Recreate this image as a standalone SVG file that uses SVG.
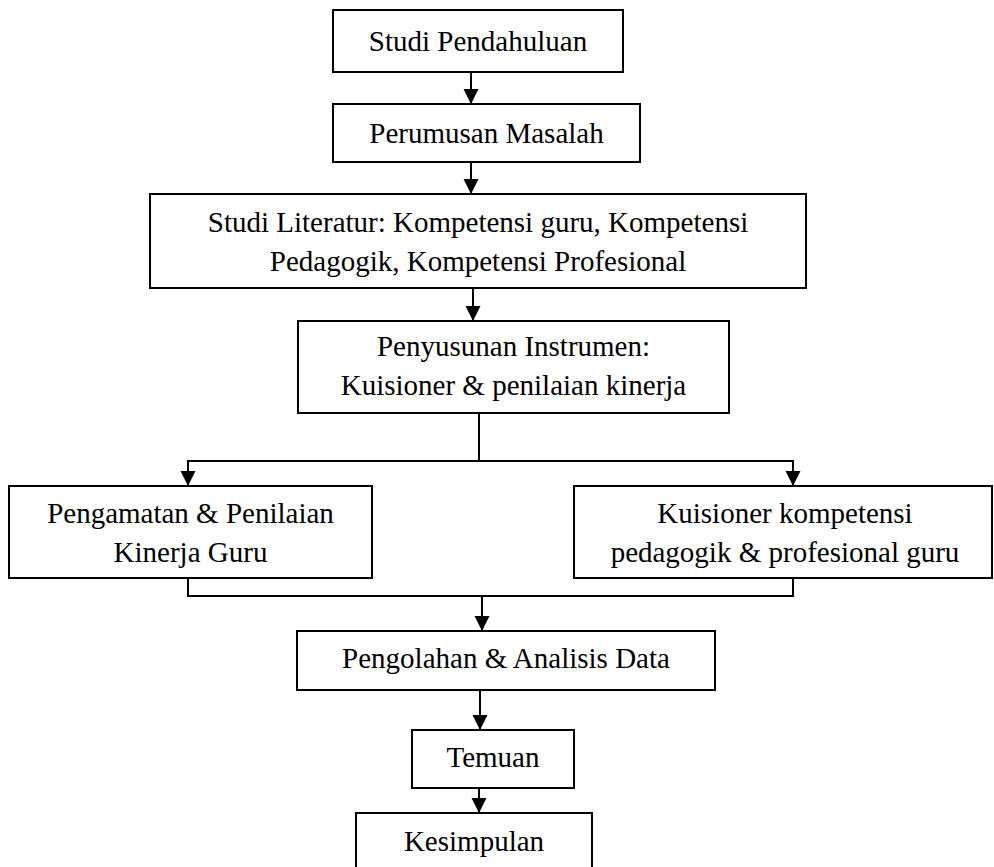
<svg xmlns="http://www.w3.org/2000/svg" width="994" height="867" viewBox="0 0 994 867">
<defs>
<marker id="ah" markerUnits="userSpaceOnUse" markerWidth="16" markerHeight="16" refX="15" refY="7.5" orient="auto">
<path d="M0,0 L15,7.5 L0,15 Z" fill="#000"/>
</marker>
</defs>
<style>
.box{fill:#fff;stroke:#000;stroke-width:2}
.t{font-family:"Liberation Serif","Times New Roman",serif;font-size:29px;fill:#000;text-anchor:middle}
.c{fill:none;stroke:#000;stroke-width:2}
.a{marker-end:url(#ah)}
</style>
<rect width="994" height="867" fill="#fff"/>
<g id="connectors">
<line class="c a" x1="471" y1="72" x2="471" y2="104"/>
<line class="c a" x1="471" y1="162" x2="471" y2="194"/>
<line class="c a" x1="473" y1="288" x2="473" y2="321"/>
<line class="c" x1="479" y1="413" x2="479" y2="461"/>
<polyline class="c" points="188,486 188,461 793,461 793,486"/>
<line class="c a" x1="188" y1="461" x2="188" y2="486"/>
<line class="c a" x1="793" y1="461" x2="793" y2="486"/>
<polyline class="c" points="188,578 188,596 793,596 793,578"/>
<line class="c a" x1="482" y1="596" x2="482" y2="631"/>
<line class="c a" x1="480" y1="690" x2="480" y2="730"/>
<line class="c a" x1="479" y1="788" x2="479" y2="813"/>
</g>
<g id="n1"><rect class="box" x="333" y="10" width="290" height="62"/><text class="t" x="478" y="51">Studi Pendahuluan</text></g>
<g id="n2"><rect class="box" x="333" y="104" width="307" height="58"/><text class="t" x="486.5" y="143">Perumusan Masalah</text></g>
<g id="n3"><rect class="box" x="150" y="194" width="656" height="94"/><text class="t" x="478" y="232">Studi Literatur: Kompetensi guru, Kompetensi</text><text class="t" x="478" y="271">Pedagogik, Kompetensi Profesional</text></g>
<g id="n4"><rect class="box" x="298" y="321" width="431" height="92"/><text class="t" x="513.5" y="356">Penyusunan Instrumen:</text><text class="t" x="513.5" y="395">Kuisioner &amp; penilaian kinerja</text></g>
<g id="n5"><rect class="box" x="9" y="486" width="363" height="92"/><text class="t" x="190.5" y="523">Pengamatan &amp; Penilaian</text><text class="t" x="190.5" y="562">Kinerja Guru</text></g>
<g id="n6"><rect class="box" x="574" y="486" width="418" height="92"/><text class="t" x="785" y="523">Kuisioner kompetensi</text><text class="t" x="785" y="562">pedagogik &amp; profesional guru</text></g>
<g id="n7"><rect class="box" x="297" y="631" width="418" height="59"/><text class="t" x="506" y="668">Pengolahan &amp; Analisis Data</text></g>
<g id="n8"><rect class="box" x="412" y="730" width="162" height="58"/><text class="t" x="493" y="767">Temuan</text></g>
<g id="n9"><rect class="box" x="356" y="813" width="236" height="60"/><text class="t" x="474" y="851">Kesimpulan</text></g>
</svg>
